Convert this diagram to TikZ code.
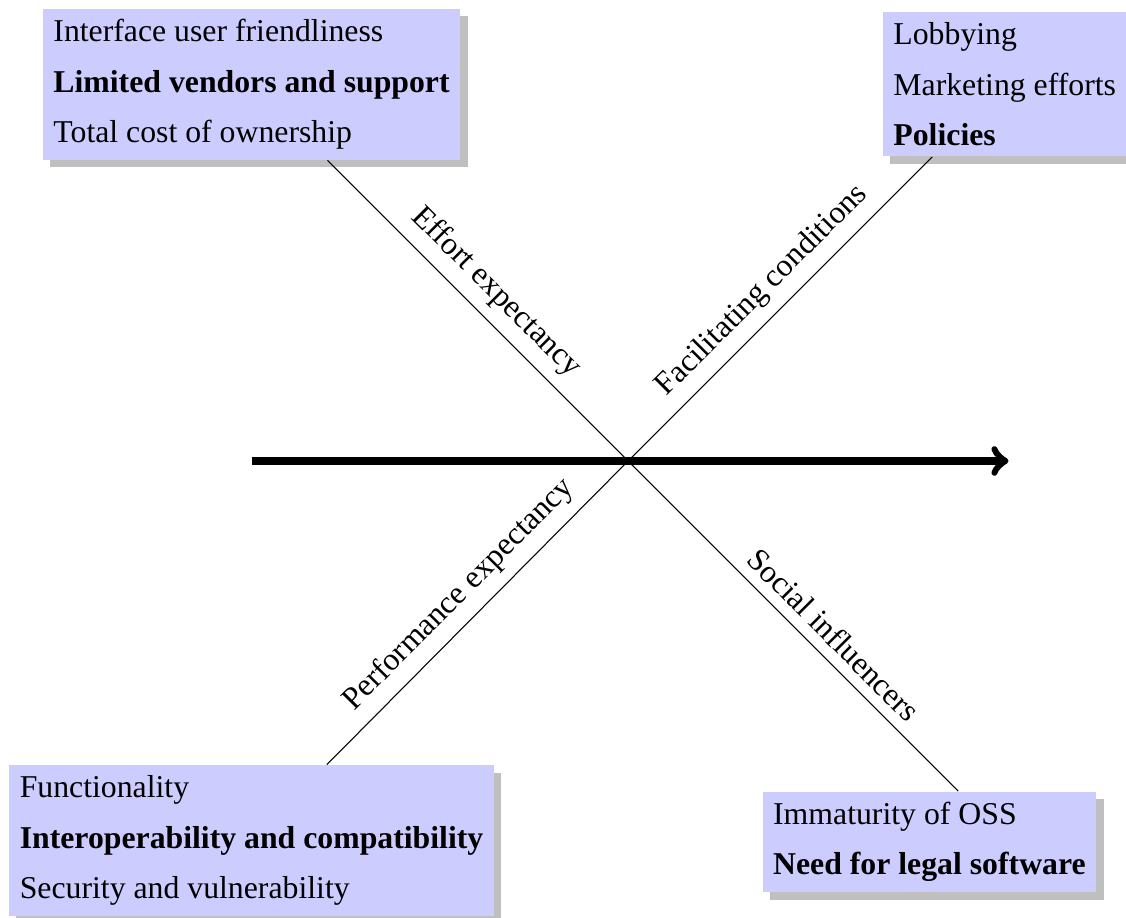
\documentclass[tikz,border=0pt,12pt]{standalone}
\usepackage{fontspec}
\setmainfont{Liberation Serif}
\usetikzlibrary{shadows}

\begin{document}
\begin{tikzpicture}
    \useasboundingbox (-8.34,-6.06) rectangle (6.61,6.12);
    \coordinate (O) at (0,0);
    \coordinate (SE) at (5,-5);
    \coordinate (tail) at (-5,0);
    \coordinate (head) at (5.05,0);

    \begin{scope}[every node/.style={fill=blue!20,drop shadow,align=left,font=\fontsize{12}{19}\selectfont}]
        \node (EE) at (-5,5) {Interface user friendliness\\ \textbf{Limited vendors and support}\\ Total cost of ownership};
        \node (FC) at (5,5) {Lobbying\\ Marketing efforts\\ \textbf{Policies}};
        \node (PE) at (-5,-5.04) {Functionality\\ \textbf{Interoperability and compatibility}\\ Security and vulnerability};
        \node (SI) at (4,-5.06) {Immaturity of OSS\\ \textbf{Need for legal software}};
    \end{scope}

    \begin{scope}[every node/.style={font=\fontsize{12}{14}\selectfont}]
        \path [-] (O) edge node[midway,above,sloped] {Effort expectancy} (EE);
        \path [-] (O) edge node[midway,above,sloped] {Facilitating conditions} (FC);
        \path [-] (O) edge node[midway,above,sloped] {Performance expectancy} (PE);
        \path [-] (O) edge node[pos=.575,above,sloped] {Social influencers} (intersection of O--SE and SI.north west--SI.north east);
        \path [->,line width=2.8pt] (tail) edge (head);
    \end{scope}
\end{tikzpicture}
\end{document}
